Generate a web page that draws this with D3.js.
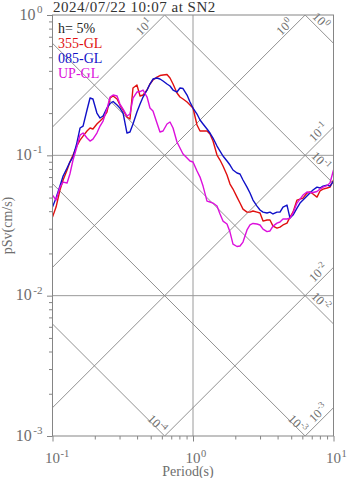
<!DOCTYPE html>
<html>
<head>
<meta charset="utf-8">
<script src="https://cdn.jsdelivr.net/npm/d3@7"></script>
<style>
  body { margin: 0; background: #fff; }
  svg { display: block; font-family: "Liberation Serif", "Times New Roman", serif; }
</style>
</head>
<body>
<svg id="chart" width="347" height="478"></svg>
<script>
// Pseudo-velocity response spectra (h = 5%), periods in s, pSv in cm/s
const periods = [0.100,0.106,0.113,0.119,0.127,0.133,0.140,0.149,0.157,0.165,
  0.176,0.185,0.194,0.207,0.218,0.229,0.244,0.257,0.270,0.288,
  0.302,0.318,0.339,0.356,0.374,0.399,0.420,0.441,0.471,0.494,
  0.519,0.554,0.582,0.612,0.653,0.686,0.721,0.769,0.808,0.849,
  0.907,0.952,1.000,1.068,1.122,1.179,1.258,1.321,1.388,1.482,
  1.557,1.635,1.746,1.834,1.926,2.057,2.160,2.269,2.423,2.545,
  2.673,2.854,2.999,3.150,3.363,3.532,3.710,3.962,4.161,4.371,
  4.667,4.902,5.149,5.498,5.775,6.066,6.477,6.803,7.146,7.631,
  8.015,8.419,8.990,9.443,10.00];

const sv355 = [0.0363,0.0428,0.0566,0.0667,0.0786,0.0896,0.1005,0.1165,0.1285,0.1372,
  0.1490,0.1565,0.1540,0.1672,0.1756,0.1845,0.2035,0.2561,0.2646,0.2519,
  0.2283,0.2103,0.1875,0.1815,0.3018,0.3170,0.2646,0.2690,0.2920,0.3222,
  0.3441,0.3614,0.3704,0.3735,0.3766,0.3556,0.3222,0.2780,0.2603,0.2519,
  0.2398,0.2283,0.2173,0.1644,0.1490,0.1490,0.1490,0.1419,0.1264,0.1005,
  0.0926,0.0839,0.0724,0.0624,0.0575,0.0504,0.0457,0.0414,0.0394,0.0394,
  0.0401,0.0394,0.0388,0.0340,0.0346,0.0346,0.0313,0.0303,0.0308,0.0319,
  0.0329,0.0363,0.0394,0.0480,0.0488,0.0496,0.0539,0.0548,0.0530,0.0504,
  0.0557,0.0575,0.0585,0.0594,0.0667];

const sv085 = [0.0428,0.0496,0.0604,0.0712,0.0812,0.0896,0.0973,0.1223,0.1565,0.1617,
  0.2103,0.2561,0.2519,0.2002,0.1845,0.1906,0.2173,0.2340,0.2418,0.2283,
  0.2173,0.2002,0.1442,0.1466,0.1672,0.2035,0.2321,0.2603,0.2920,0.3222,
  0.3498,0.3556,0.3498,0.3385,0.3222,0.3118,0.2920,0.2826,0.3018,0.2993,
  0.2690,0.2398,0.2173,0.1969,0.1785,0.1672,0.1540,0.1442,0.1328,0.1165,
  0.1073,0.0989,0.0911,0.0853,0.0786,0.0748,0.0736,0.0667,0.0594,0.0539,
  0.0480,0.0435,0.0408,0.0394,0.0388,0.0394,0.0382,0.0394,0.0394,0.0428,
  0.0442,0.0357,0.0375,0.0421,0.0457,0.0480,0.0513,0.0539,0.0566,0.0594,
  0.0585,0.0604,0.0614,0.0604,0.0656];

const svUP = [0.0521,0.0480,0.0594,0.0645,0.0635,0.0736,0.0926,0.1146,0.1395,0.1442,
  0.1328,0.1264,0.1306,0.1442,0.1617,0.1756,0.2138,0.2603,0.2690,0.2646,
  0.2321,0.2138,0.1906,0.1969,0.2561,0.2826,0.2849,0.2920,0.2603,0.2173,
  0.2069,0.1699,0.1466,0.1490,0.1672,0.1727,0.1565,0.1244,0.1127,0.1022,
  0.0957,0.0911,0.0896,0.0773,0.0700,0.0604,0.0472,0.0465,0.0457,0.0435,
  0.0382,0.0340,0.0324,0.0284,0.0233,0.0224,0.0226,0.0241,0.0294,0.0319,
  0.0327,0.0324,0.0319,0.0298,0.0286,0.0289,0.0313,0.0329,0.0335,0.0352,
  0.0352,0.0357,0.0388,0.0457,0.0488,0.0521,0.0548,0.0543,0.0543,0.0552,
  0.0575,0.0594,0.0609,0.0635,0.0786];

const seriesNames = ["355-GL", "085-GL", "UP-GL"];
const seriesValues = [sv355, sv085, svUP];
const seriesColors = ["#e01010", "#1010c8", "#dc10dc"];

// Tripartite guide lines: constant acceleration (gal) and displacement (cm)
const accelLevels = [10, 1, 0.1, 0.01, 0.001];
const dispLevels = [1, 0.1, 0.01, 0.001, 0.0001];

const xMajor = [0.1, 1, 10];
const yMajor = [0.001, 0.01, 0.1, 1];
const titleText = "2024/07/22 10:07 at SN2";
const dampingText = "h= 5%";

const svg = d3.select("#chart");
const plotL = 52.5, plotR = 333.5, plotT = 15, plotB = 436;
const x = d3.scaleLog().domain([0.1, 10]).range([plotL, plotR]);
const y = d3.scaleLog().domain([0.001, 1]).range([plotB, plotT]);
const TWO_PI = 2 * Math.PI;
const gray = "#858585";
const labelGray = "#6e6e6e";

svg.append("defs").append("clipPath").attr("id", "plotClip")
  .append("rect").attr("x", plotL).attr("y", plotT)
  .attr("width", plotR - plotL).attr("height", plotB - plotT);

// grid lines at the inner decades
const grid = svg.append("g").attr("stroke", "#9a9a9a").attr("stroke-width", 1);
[0.1, 0.01].forEach(v => grid.append("line")
  .attr("x1", plotL).attr("x2", plotR).attr("y1", y(v)).attr("y2", y(v)));
[1].forEach(v => grid.append("line")
  .attr("x1", x(v)).attr("x2", x(v)).attr("y1", plotT).attr("y2", plotB));

// diagonal lines and their labels
const diag = svg.append("g").attr("clip-path", "url(#plotClip)")
  .attr("stroke", gray).attr("stroke-width", 0.9);
const diagLabels = svg.append("g").attr("fill", labelGray);
const R = Math.SQRT1_2;

function expText(sel, exp, small, lift, gap) {
  sel.append("tspan").text("10");
  sel.append("tspan").attr("dx", gap || 0).attr("dy", -lift).attr("font-size", small).text(exp);
}

function placeLabel(end, u, n, along, perp, angle, level) {
  const cx = end[0] - along * u[0] + perp * n[0];
  const cy = end[1] - along * u[1] + perp * n[1];
  const t = diagLabels.append("text")
    .attr("transform", `translate(${cx},${cy}) rotate(${angle})`)
    .attr("text-anchor", "middle").attr("font-size", 12.5).attr("dy", 4);
  expText(t, String(Math.round(Math.log10(level))), 9, 5, 0.5);
}

accelLevels.forEach(a => {
  const sv = t => a * t / TWO_PI;
  const t0 = Math.max(0.1, TWO_PI * 0.001 / a);
  const t1 = Math.min(10, TWO_PI / a);
  diag.append("line")
    .attr("x1", x(t0)).attr("y1", y(sv(t0)))
    .attr("x2", x(t1)).attr("y2", y(sv(t1)));
  const end = [x(t1), y(sv(t1))];
  const onRight = t1 >= 10;
  placeLabel(end, [R, -R], [-R, -R], onRight ? 14.5 : 23, onRight ? 7 : 6, -45, a);
});

dispLevels.forEach(d => {
  const sv = t => TWO_PI * d / t;
  const t0 = Math.max(0.1, TWO_PI * d);
  const t1 = Math.min(10, TWO_PI * d / 0.001);
  diag.append("line")
    .attr("x1", x(t0)).attr("y1", y(sv(t0)))
    .attr("x2", x(t1)).attr("y2", y(sv(t1)));
  const end = [x(t1), y(sv(t1))];
  const onRight = t1 >= 10;
  placeLabel(end, [R, R], [R, -R], onRight ? 25 : 14, onRight ? 7 : 3, 45, d);
});

// spectra
const lineGen = d3.line().x((d, i) => x(periods[i])).y(d => y(d));
const curves = svg.append("g").attr("clip-path", "url(#plotClip)").attr("fill", "none");
seriesValues.forEach((vals, k) => {
  curves.append("path").attr("d", lineGen(vals))
    .attr("stroke", seriesColors[k]).attr("stroke-width", 1.4)
    .attr("stroke-linejoin", "round");
});

// axes: minor and major ticks, pointing outward
function decadeMinors(lo, hi) {
  const out = [];
  for (let e = Math.round(Math.log10(lo)); e < Math.round(Math.log10(hi)); e++)
    for (let m = 2; m <= 9; m++) out.push(m * Math.pow(10, e));
  return out;
}
const axisStyle = g => {
  g.select(".domain").remove();
  g.selectAll("line").attr("stroke", gray);
};
svg.append("g").attr("transform", `translate(${plotL},0)`)
  .call(d3.axisLeft(y).tickValues(decadeMinors(0.001, 1)).tickSize(3.5).tickSizeOuter(0).tickFormat(""))
  .call(axisStyle);
svg.append("g").attr("transform", `translate(${plotL},0)`)
  .call(d3.axisLeft(y).tickValues(yMajor).tickSize(5.5).tickSizeOuter(0).tickFormat(""))
  .call(axisStyle);
svg.append("g").attr("transform", `translate(0,${plotB})`)
  .call(d3.axisBottom(x).tickValues(decadeMinors(0.1, 10)).tickSize(3.5).tickSizeOuter(0).tickFormat(""))
  .call(axisStyle);
svg.append("g").attr("transform", `translate(0,${plotB})`)
  .call(d3.axisBottom(x).tickValues(xMajor).tickSize(5.5).tickSizeOuter(0).tickFormat(""))
  .call(axisStyle);

// frame
svg.append("rect").attr("x", plotL).attr("y", plotT)
  .attr("width", plotR - plotL).attr("height", plotB - plotT)
  .attr("fill", "none").attr("stroke", gray).attr("stroke-width", 1);

// tick labels
const tickLabels = svg.append("g").attr("fill", labelGray);
yMajor.forEach(v => {
  const t = tickLabels.append("text").attr("x", 42.5).attr("y", y(v) + 4.5)
    .attr("text-anchor", "end").attr("font-size", 16);
  expText(t, String(Math.round(Math.log10(v))), 11, 6.5, 1.5);
});
xMajor.forEach(v => {
  const t = tickLabels.append("text").attr("x", x(v) - 7.5).attr("y", 463)
    .attr("font-size", 15);
  expText(t, String(Math.round(Math.log10(v))), 10.5, 6, 0.5);
});

// axis titles
svg.append("text").attr("x", 188).attr("y", 476).attr("text-anchor", "middle")
  .attr("font-size", 14).attr("fill", labelGray).text("Period(s)");
svg.append("text").attr("transform", `translate(12,${(plotT + plotB) / 2}) rotate(-90)`)
  .attr("text-anchor", "middle").attr("font-size", 14).attr("fill", labelGray)
  .text("pSv(cm/s)");

// title
svg.append("text").attr("x", 53).attr("y", 11.5).attr("font-size", 15)
  .attr("letter-spacing", 0.5).attr("fill", "#333").text(titleText);

// legend
const legend = svg.append("g").attr("font-size", 14);
legend.append("text").attr("x", 58).attr("y", 33).attr("fill", "#222").text(dampingText);
seriesNames.forEach((name, k) => {
  legend.append("text").attr("x", 58).attr("y", 48 + 15 * k)
    .attr("fill", seriesColors[k]).text(name);
});
</script>
</body>
</html>
